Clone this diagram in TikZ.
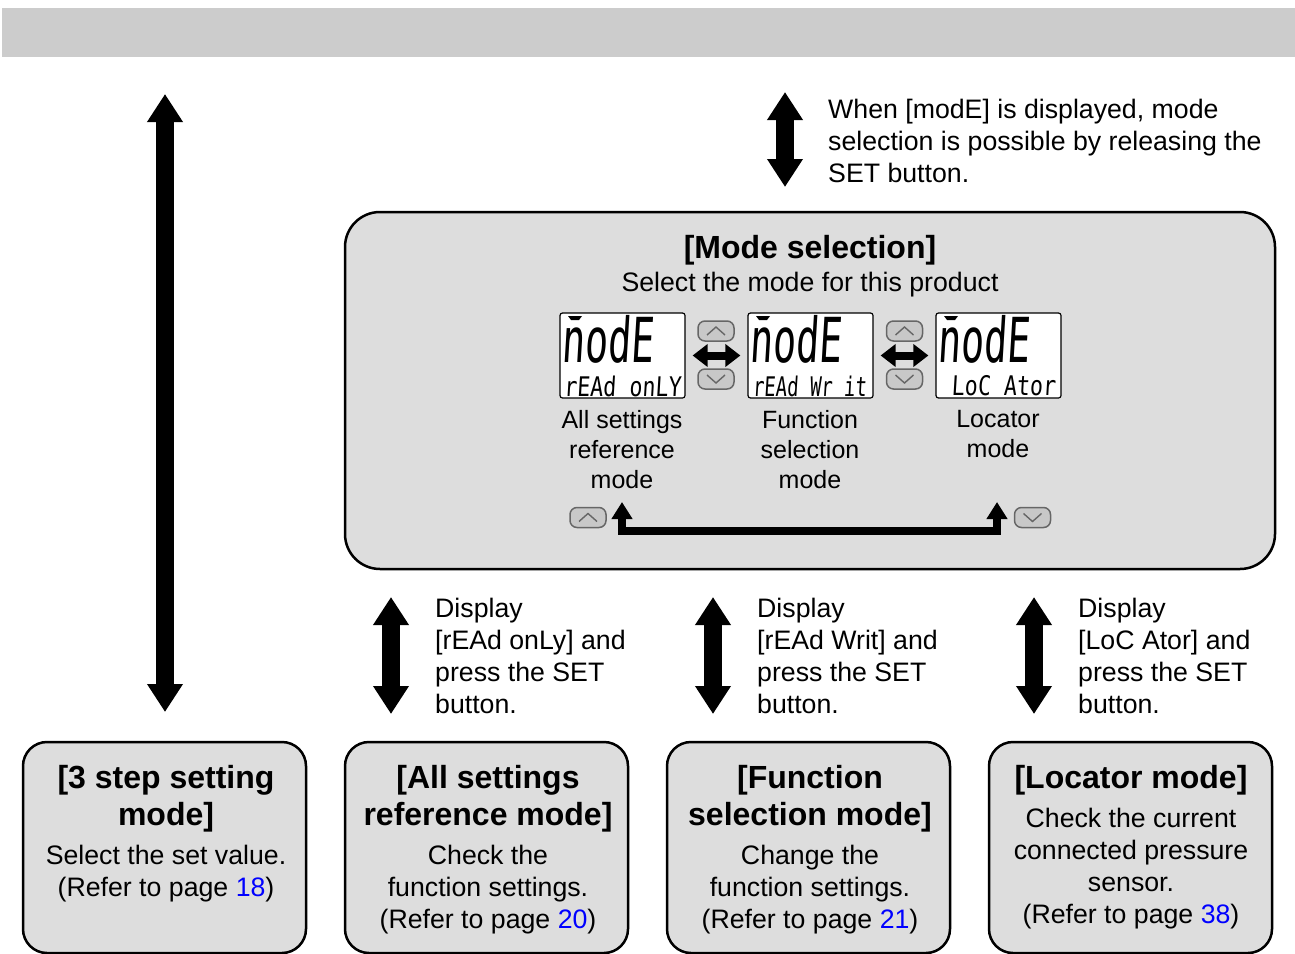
\documentclass[tikz,border=0pt]{standalone}
\usepackage{fontspec}
\setmainfont{Liberation Sans}
\newfontfamily\lcdbigfont[FakeSlant=0.06,FakeStretch=0.62]{DejaVu Sans Mono}
\newfontfamily\lcdsmallfont[FakeSlant=0.06,FakeStretch=0.8]{DejaVu Sans Mono}
\newfontfamily\lcdnarrowfont[FakeSlant=0.06,FakeStretch=0.7]{DejaVu Sans Mono}
\usetikzlibrary{arrows.meta}
\definecolor{bannergray}{HTML}{CCCCCC}
\definecolor{panelgray}{HTML}{DDDDDD}
\definecolor{btngray}{HTML}{C8C8C8}
\definecolor{btnline}{HTML}{666666}
\tikzset{
  panel/.style={draw,line width=2.5pt,fill=panelgray,rounded corners=#1,inner sep=0pt},
  lcd/.style={draw,line width=1.2pt,fill=white,rounded corners=2.5pt,minimum width=125pt,minimum height=85pt,inner sep=0pt},
  lcdbig/.style={inner sep=0pt,font=\fontsize{62}{62}\lcdbigfont},
  lcdsmall/.style={inner sep=0pt,font=\fontsize{27}{27}\lcdsmallfont},
  lcdnarrow/.style={inner sep=0pt,font=\fontsize{27}{27}\lcdnarrowfont},
  btn/.style={draw=btnline,line width=1.5pt,fill=btngray,rounded corners=7pt,minimum width=36pt,minimum height=20pt,inner sep=0pt},
  btnup/.style={btn,path picture={\draw[btnline,line width=1.4pt,sharp corners] (path picture bounding box.center) ++(-9,4) -- ++(9,-8) -- ++(9,8);}},
  btndn/.style={btn,path picture={\draw[btnline,line width=1.4pt,sharp corners] (path picture bounding box.center) ++(-9,-4) -- ++(9,8) -- ++(9,-8);}},
  bigarrow/.style={line width=18pt,{Triangle[width=34pt,length=28pt]}-{Triangle[width=34pt,length=28pt]}},
  smallarrow/.style={line width=8pt,{Triangle[width=22pt,length=15pt]}-{Triangle[width=22pt,length=15pt]}},
  elbowarrow/.style={line width=8pt,miter limit=10,{Triangle[width=20pt,length=17pt]}-{Triangle[width=20pt,length=17pt]}},
  bodytext/.style={inner sep=0pt,anchor=north,align=center,font=\fontsize{26.7}{32}\selectfont},
  sidetext/.style={inner sep=0pt,anchor=north west,align=left,font=\fontsize{26.7}{32}\selectfont},
  modetext/.style={inner sep=0pt,anchor=north,align=center,font=\fontsize{25}{30}\selectfont},
  titletext/.style={inner sep=0pt,anchor=north,align=center,font=\fontsize{32}{37}\bfseries},
}
\newcommand{\pagelink}[1]{\textcolor{blue}{#1}}
\begin{document}
\begin{tikzpicture}[x=1pt,y=-1pt]
  \useasboundingbox (0,0) rectangle (1295,953);
  \clip (0,0) rectangle (1295,953);
  \fill[bannergray] (2,8) rectangle (1295,57);

  % free ends of the big arrows
  \coordinate (longtop) at (165,94);
  \coordinate (longbot) at (165,712);
  \coordinate (seltop) at (785,92);
  \coordinate (selbot) at (785,187);
  \coordinate (readtop) at (391,597);
  \coordinate (readbot) at (391,714);
  \coordinate (functop) at (713,597);
  \coordinate (funcbot) at (713,714);
  \coordinate (loctop) at (1034,597);
  \coordinate (locbot) at (1034,714);
  \draw[bigarrow] (longtop) -- (longbot);
  \draw[bigarrow] (seltop) -- (selbot);
  \draw[bigarrow] (readtop) -- (readbot);
  \draw[bigarrow] (functop) -- (funcbot);
  \draw[bigarrow] (loctop) -- (locbot);

  \node[sidetext] (seltext) at (828,99)
    {When [modE] is displayed, mode\\selection is possible by releasing the\\SET button.};

  \node[panel=35pt,minimum width=930pt,minimum height=357pt] (modepanel) at (810,390.5) {};
  \node[titletext] (modetitle) at (810,235) {[Mode selection]};
  \node[bodytext] (modesub) at (810,272) {Select the mode for this product};

  % displays
  \node[lcd] (lcda) at (622.5,355.5) {};
  \node[lcd] (lcdb) at (810.5,355.5) {};
  \node[lcd] (lcdc) at (998.5,355.5) {};
  \node[lcdbig] (biga) at (607.5,339) {nodE};
  \node[lcdbig] (bigb) at (795.5,339) {nodE};
  \node[lcdbig] (bigc) at (983.5,339) {nodE};
  \node[lcdsmall] (smalla) at (622.5,386) {rEAd onLY};
  \node[lcdnarrow] (smallb) at (809.5,386) {rEAd Wr it};
  \node[lcdsmall] (smallc) at (1003.5,386) {LoC Ator};
  \fill (568,316) -- (582,316) -- (579,320) -- (571,320) -- cycle;
  \fill (756,316) -- (770,316) -- (767,320) -- (759,320) -- cycle;
  \fill (944,316) -- (958,316) -- (955,320) -- (947,320) -- cycle;

  % buttons and arrows between the displays
  \node[btnup] (upa) at (716,331) {};
  \node[btndn] (dna) at (716,379) {};
  \node[btnup] (upb) at (904.5,331) {};
  \node[btndn] (dnb) at (904.5,379) {};
  \draw[smallarrow,shorten <=7pt,shorten >=7pt] (lcda.east) -- (lcdb.west);
  \draw[smallarrow,shorten <=7pt,shorten >=7pt] (lcdb.east) -- (lcdc.west);

  \node[modetext] (labela) at (622,410) {All settings\\reference\\mode};
  \node[modetext] (labelb) at (810,410) {Function\\selection\\mode};
  \node[modetext] (labelc) at (998,410) {Locator\\mode};

  % return path under the labels
  \coordinate (backa) at (622,502);
  \coordinate (backb) at (622,531);
  \coordinate (backc) at (997,531);
  \coordinate (backd) at (997,502);
  \draw[elbowarrow] (backa) -- (backb) -- (backc) -- (backd);
  \node[btnup] (upc) at (588,517.5) {};
  \node[btndn] (dnc) at (1032.5,517.5) {};

  \node[sidetext] (readtext) at (435,598)
    {Display\\{}[rEAd onLy] and\\press the SET\\button.};
  \node[sidetext] (functext) at (757,598)
    {Display\\{}[rEAd Writ] and\\press the SET\\button.};
  \node[sidetext] (loctext) at (1078,598)
    {Display\\{}[LoC Ator] and\\press the SET\\button.};

  % boxes stop at the bottom of the page
  \node[panel=24pt,minimum width=283pt,minimum height=211pt] (stepbox) at (164.5,847.5) {};
  \node[panel=24pt,minimum width=283pt,minimum height=211pt] (readbox) at (486.5,847.5) {};
  \node[panel=24pt,minimum width=283pt,minimum height=211pt] (funcbox) at (808.5,847.5) {};
  \node[panel=24pt,minimum width=283pt,minimum height=211pt] (locbox) at (1130.5,847.5) {};

  \node[titletext] (steptitle) at (166,765) {[3 step setting\\mode]};
  \node[bodytext] (stepbody) at (166,845) {Select the set value.\\(Refer to page \pagelink{18})};
  \node[titletext] (readtitle) at (488,765) {[All settings\\reference mode]};
  \node[bodytext] (readbody) at (488,845) {Check the\\function settings.\\(Refer to page \pagelink{20})};
  \node[titletext] (functitle) at (810,765) {[Function\\selection mode]};
  \node[bodytext] (funcbody) at (810,845) {Change the\\function settings.\\(Refer to page \pagelink{21})};
  \node[titletext] (loctitle) at (1131,765) {[Locator mode]};
  \node[bodytext] (locbody) at (1131,808) {Check the current\\connected pressure\\sensor.\\(Refer to page \pagelink{38})};
\end{tikzpicture}
\end{document}
